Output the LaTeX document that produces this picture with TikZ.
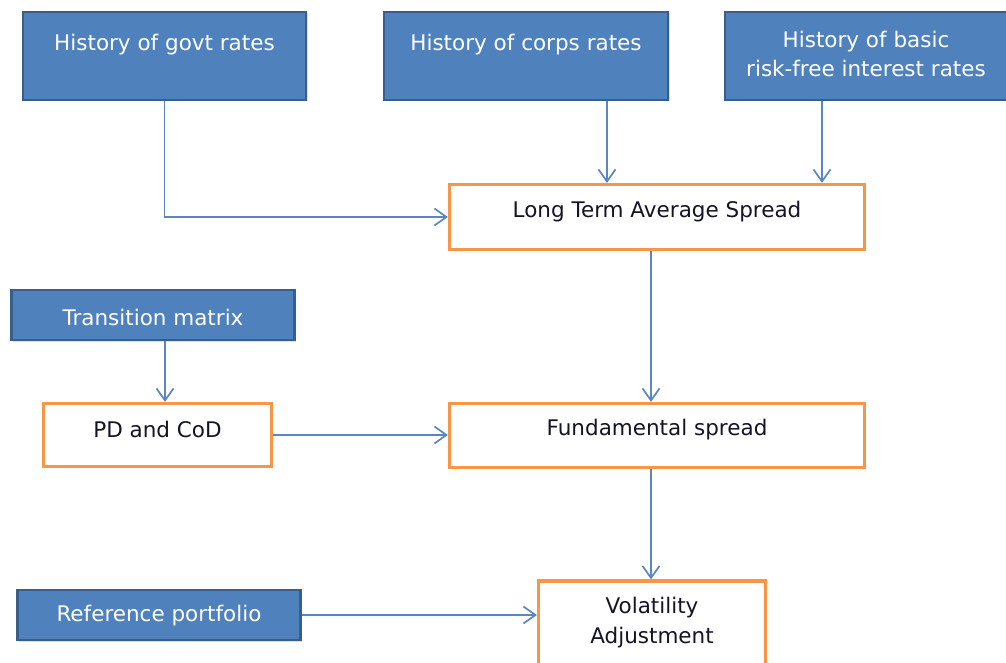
\documentclass[tikz,border=0pt]{standalone}
\usepackage{fontspec}
\setmainfont{DejaVu Sans}
\usetikzlibrary{arrows.meta,shadows}
\definecolor{bfill}{HTML}{4F81BD}
\definecolor{bdraw}{HTML}{385E8C}
\definecolor{obord}{HTML}{F79646}
\definecolor{arr}{HTML}{5B87C1}
\definecolor{dtext}{HTML}{141428}
\begin{document}
\begin{tikzpicture}[x=1pt,y=-1pt,
  bluebox/.style={draw=bdraw, line width=2.5pt, fill=bfill, inner sep=0pt,
    drop shadow={shadow xshift=1.5pt, shadow yshift=-1.5pt, opacity=.25}},
  orangebox/.style={draw=obord, line width=3.2pt, fill=white, inner sep=0pt},
  btext/.style={text=white, font=\fontsize{21.5}{29}\selectfont, align=center, inner sep=0pt},
  otext/.style={text=dtext, font=\fontsize{21.5}{30}\selectfont, align=center, inner sep=0pt},
  conn/.style={draw=arr, line width=1.7pt, -{Straight Barb[length=12pt,width=17pt,line width=1.7pt]}}]
\useasboundingbox (0,0) rectangle (1006,663);
% boxes
\node[bluebox, minimum width=283pt, minimum height=88pt] (govt) at (164.5,56) {};
\node[bluebox, minimum width=284pt, minimum height=88pt] (corps) at (526,56) {};
\node[bluebox, minimum width=282pt, minimum height=88pt] (basic) at (866,56) {};
\node[orangebox, minimum width=415pt, minimum height=65pt] (ltas) at (657,217) {};
\node[bluebox, minimum width=283pt, minimum height=50pt] (trans) at (153,315) {};
\node[orangebox, minimum width=228pt, minimum height=63pt] (pd) at (157.5,435) {};
\node[orangebox, minimum width=415pt, minimum height=64pt] (fund) at (657,435.5) {};
\node[bluebox, minimum width=283pt, minimum height=50pt] (ref) at (159,615) {};
\node[orangebox, minimum width=227pt, minimum height=88pt] (vol) at (652,625) {};
% texts
\node[btext] (govtT) at (164.5,45) {History of govt rates};
\node[btext] (corpsT) at (526,45) {History of corps rates};
\node[btext] (basicT) at (866,53.5) {History of basic\\risk-free interest rates};
\node[otext] (ltasT) at (657,212) {Long Term Average Spread};
\node[btext] (transT) at (153,317) {Transition matrix};
\node[otext] (pdT) at (157.5,429) {PD and CoD};
\node[otext] (fundT) at (657,430) {Fundamental spread};
\node[btext] (refT) at (159,616) {Reference portfolio};
\node[otext] (volT) at (652,622.5) {Volatility\\Adjustment};
% connectors
\draw[conn] (govt.south) |- (ltas.west);
\draw[conn] ([xshift=81pt]corps.south) -- ([xshift=81pt]corps.south |- ltas.north);
\draw[conn] ([xshift=-44pt]basic.south) -- ([xshift=-44pt]basic.south |- ltas.north);
\draw[conn] ([xshift=-6pt]ltas.south) -- ([xshift=-6pt]fund.north);
\draw[conn] ([xshift=12pt]trans.south) -- ([xshift=12pt]trans.south |- pd.north);
\draw[conn] (pd.east) -- (pd.east -| fund.west);
\draw[conn] ([xshift=-6pt]fund.south) -- ([xshift=-6pt]fund.south |- vol.north);
\draw[conn] (ref.east) -- (ref.east -| vol.west);
\end{tikzpicture}
\end{document}
